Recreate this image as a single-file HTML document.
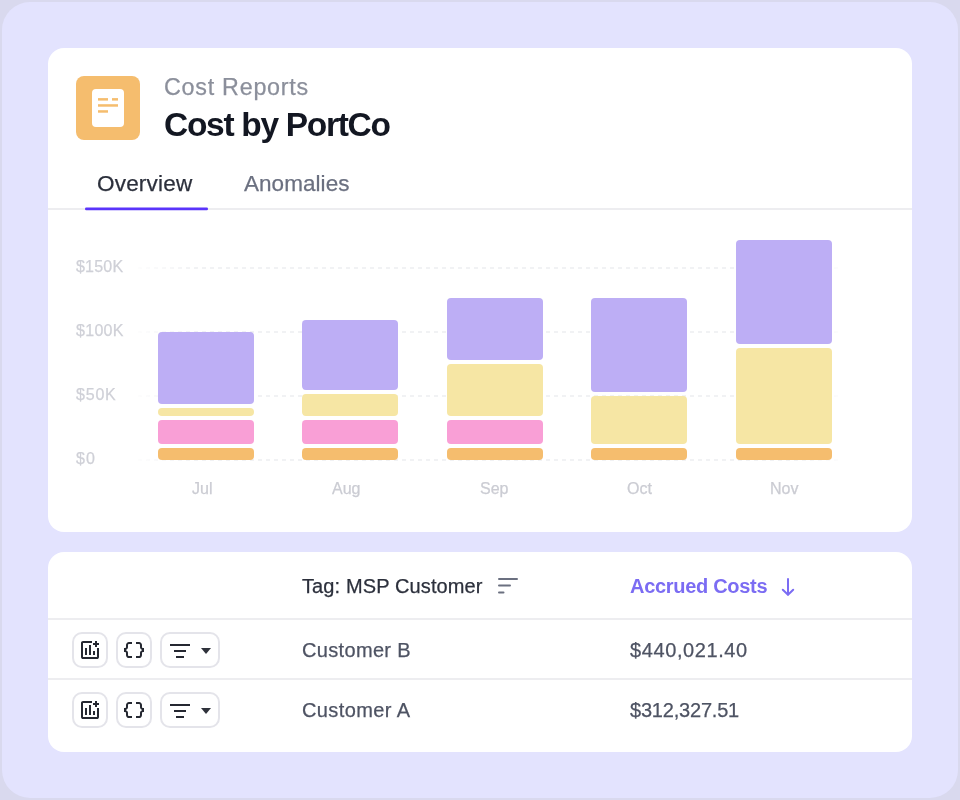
<!DOCTYPE html>
<html><head><meta charset="utf-8">
<style>
*{box-sizing:border-box;margin:0;padding:0}
html,body{width:960px;height:800px;overflow:hidden;background:#d9d9ee}
body{font-family:"Liberation Sans",sans-serif;position:relative;-webkit-font-smoothing:antialiased}
.frame{position:absolute;left:2px;top:2px;width:956px;height:796px;border-radius:28px;background:#e3e3fe}
.card{position:absolute;left:48px;width:864px;background:#fff;border-radius:16px}
.t{position:absolute;white-space:nowrap;line-height:1;will-change:transform;-webkit-text-stroke:0.25px currentColor}
.bar{position:absolute;border-radius:4px}
.p{background:#bdaef5}
.y{background:#f6e6a4}
.k{background:#f99fd6}
.o{background:#f5bd6e}
.btn{position:absolute;border:2px solid #e4e4ea;border-radius:10px;background:#fff}
.div{position:absolute;left:0;width:864px;height:2px;background:#ededf0}
</style></head><body>
<div class="frame"></div>

<!-- Card 1 -->
<div class="card" style="top:48px;height:484px">
  <!-- icon -->
  <svg style="position:absolute;left:28px;top:28px" width="64" height="64">
    <rect x="0" y="0" width="64" height="64" rx="8" fill="#f5bd6e"/>
    <rect x="16" y="13" width="32" height="38" rx="4" fill="#fff"/>
    <g fill="#f5bd6e">
      <rect x="22" y="22.1" width="10" height="2.5"/>
      <rect x="36" y="22.1" width="6" height="2.5"/>
      <rect x="22" y="28.2" width="20" height="2.5"/>
      <rect x="22" y="34.2" width="10" height="2.5"/>
    </g>
  </svg>
  <div class="t" style="left:116px;top:28.3px;font-size:23.3px;color:#8b8f9b;letter-spacing:0.75px">Cost Reports</div>
  <div class="t" style="left:116px;top:60px;font-size:33.5px;font-weight:700;-webkit-text-stroke:0;color:#131722;letter-spacing:-1.3px">Cost by PortCo</div>

  <!-- tabs -->
  <div class="t" style="left:49px;top:124.5px;font-size:22.5px;color:#2c303c;letter-spacing:0.2px">Overview</div>
  <div class="t" style="left:196px;top:124.5px;font-size:22.5px;color:#6b7080;letter-spacing:0.05px">Anomalies</div>
  <div class="div" style="top:160px"></div>
  <svg style="position:absolute;left:0;top:150px" width="300" height="20"><rect x="37" y="9.6" width="123" height="2.6" rx="1.3" fill="#5a34fb"/></svg>

  <!-- chart -->
  <svg style="position:absolute;left:0;top:0" width="864" height="484">
    <defs><linearGradient id="gf" gradientUnits="userSpaceOnUse" x1="90" y1="0" x2="794" y2="0">
      <stop offset="0" stop-color="#e3e5e9" stop-opacity="0.15"/>
      <stop offset="0.085" stop-color="#e3e5e9" stop-opacity="1"/>
      <stop offset="0.93" stop-color="#e3e5e9" stop-opacity="1"/>
      <stop offset="1" stop-color="#e3e5e9" stop-opacity="0.15"/>
    </linearGradient></defs>
    <g stroke="url(#gf)" stroke-width="1" stroke-dasharray="4 4" fill="none">
      <line x1="90" y1="220" x2="794" y2="220"/>
      <line x1="90" y1="284" x2="794" y2="284"/>
      <line x1="90" y1="348" x2="794" y2="348"/>
      <line x1="90" y1="412" x2="794" y2="412"/>
    </g>
  </svg>
  <div class="t" style="left:28px;top:210.5px;font-size:16px;color:#cfd0d7;letter-spacing:0.2px">$150K</div>
  <div class="t" style="left:28px;top:274.5px;font-size:16px;color:#cfd0d7;letter-spacing:0.3px">$100K</div>
  <div class="t" style="left:28px;top:338.5px;font-size:16px;color:#cfd0d7;letter-spacing:0.8px">$50K</div>
  <div class="t" style="left:28px;top:402.5px;font-size:16px;color:#cfd0d7;letter-spacing:1.2px">$0</div>

  <!-- bars: card-relative (subtract 48) -->
  <div class="bar p" style="left:110px;top:284px;width:96px;height:72px"></div>
  <div class="bar y" style="left:110px;top:360px;width:96px;height:8px"></div>
  <div class="bar k" style="left:110px;top:372px;width:96px;height:24px"></div>
  <div class="bar o" style="left:110px;top:400px;width:96px;height:12px"></div>

  <div class="bar p" style="left:254.3px;top:272px;width:96px;height:70px"></div>
  <div class="bar y" style="left:254.3px;top:346px;width:96px;height:22px"></div>
  <div class="bar k" style="left:254.3px;top:372px;width:96px;height:24px"></div>
  <div class="bar o" style="left:254.3px;top:400px;width:96px;height:12px"></div>

  <div class="bar p" style="left:399px;top:250px;width:96px;height:62px"></div>
  <div class="bar y" style="left:399px;top:316px;width:96px;height:52px"></div>
  <div class="bar k" style="left:399px;top:372px;width:96px;height:24px"></div>
  <div class="bar o" style="left:399px;top:400px;width:96px;height:12px"></div>

  <div class="bar p" style="left:543px;top:250px;width:96px;height:94px"></div>
  <div class="bar y" style="left:543px;top:348px;width:96px;height:48px"></div>
  <div class="bar o" style="left:543px;top:400px;width:96px;height:12px"></div>

  <div class="bar p" style="left:688px;top:192px;width:96px;height:104px"></div>
  <div class="bar y" style="left:688px;top:300px;width:96px;height:96px"></div>
  <div class="bar o" style="left:688px;top:400px;width:96px;height:12px"></div>

  <div class="t" style="left:144px;top:432.5px;font-size:16px;color:#cbccd3">Jul</div>
  <div class="t" style="left:284px;top:432.5px;font-size:16px;color:#cbccd3">Aug</div>
  <div class="t" style="left:432px;top:432.5px;font-size:16px;color:#cbccd3">Sep</div>
  <div class="t" style="left:579px;top:432.5px;font-size:16px;color:#cbccd3">Oct</div>
  <div class="t" style="left:722px;top:432.5px;font-size:16px;color:#cbccd3">Nov</div>
</div>

<!-- Card 2 -->
<div class="card" style="top:552px;height:200px">
  <div class="t" style="left:254px;top:23.8px;font-size:20px;color:#2c303c;letter-spacing:0.12px">Tag: MSP Customer</div>
  <div class="t" style="left:582px;top:24.3px;font-size:20px;font-weight:700;-webkit-text-stroke:0;color:#7b6cf3;letter-spacing:-0.3px">Accrued Costs</div>
  <div class="div" style="top:66px"></div>
  <div class="div" style="top:126px"></div>

  <div class="t" style="left:254px;top:87.8px;font-size:20px;color:#4e5363;letter-spacing:0.33px">Customer B</div>
  <div class="t" style="left:582px;top:87.8px;font-size:20px;color:#4e5363;letter-spacing:0.6px">$440,021.40</div>
  <div class="t" style="left:254px;top:147.8px;font-size:20px;color:#4e5363;letter-spacing:0.4px">Customer A</div>
  <div class="t" style="left:582px;top:147.8px;font-size:20px;color:#4e5363;letter-spacing:-0.2px">$312,327.51</div>

  <div class="btn" style="left:24px;top:80px;width:36px;height:36px"></div>
  <div class="btn" style="left:68px;top:80px;width:36px;height:36px"></div>
  <div class="btn" style="left:112px;top:80px;width:60px;height:36px"></div>
  <div class="btn" style="left:24px;top:140px;width:36px;height:36px"></div>
  <div class="btn" style="left:68px;top:140px;width:36px;height:36px"></div>
  <div class="btn" style="left:112px;top:140px;width:60px;height:36px"></div>

  <svg style="position:absolute;left:0;top:0" width="864" height="200">
    <g id="row" fill="#252831">
      <path transform="translate(30,86)" d="M5 21q-.825 0-1.413-.588T3 19V5q0-.825.588-1.413T5 3h9v2H5v14h14v-9h2v9q0 .825-.588 1.413T19 21H5Zm2-4h2v-7H7v7Zm4 0h2V7h-2v10Zm4 0h2v-4h-2v4Zm2-8V7h-2V5h2V3h2v2h2v2h-2v2h-2Z"/>
      <path transform="translate(74,86)" d="M14 20v-2h3q.425 0 .713-.288T18 17v-2q0-.95.55-1.725T20 12.2v-.4q-.9-.3-1.45-1.075T18 9V7q0-.425-.288-.712T17 6h-3V4h3q1.25 0 2.125.875T20 7v2q0 .425.288.713T21 10h1v4h-1q-.425 0-.712.288T20 15v2q0 1.250-.875 2.125T17 20h-3Zm-7 0q-1.25 0-2.125-.875T4 17v-2q0-.425-.288-.712T3 14H2v-4h1q.425 0 .713-.288T4 9V7q0-1.25.875-2.125T7 4h3v2H7q-.425 0-.712.288T6 7v2q0 .95-.55 1.725T4 11.8v.4q.9.3 1.45 1.075T6 15v2q0 .425.288.713T7 18h3v2H7Z"/>
      <rect x="122" y="92" width="20" height="2"/>
      <rect x="126" y="98" width="12" height="2"/>
      <rect x="128" y="104" width="8" height="2"/>
      <path d="M153 96h10l-5 6z" fill="#2f323b"/>
    </g>
    <use href="#row" transform="translate(0,60)"/>
    <g stroke="#6b7080" stroke-width="2" stroke-linecap="round">
      <line x1="451" y1="27" x2="469" y2="27"/>
      <line x1="451" y1="33.5" x2="462" y2="33.5"/>
      <line x1="451" y1="40.5" x2="455.5" y2="40.5"/>
    </g>
    <g stroke="#7b6cf3" stroke-width="2" stroke-linecap="round" stroke-linejoin="round" fill="none">
      <line x1="740" y1="27" x2="740" y2="42.5"/>
      <path d="M734.8 37.8l5.2 5l5.2 -5"/>
    </g>
  </svg>
</div>
</body></html>
